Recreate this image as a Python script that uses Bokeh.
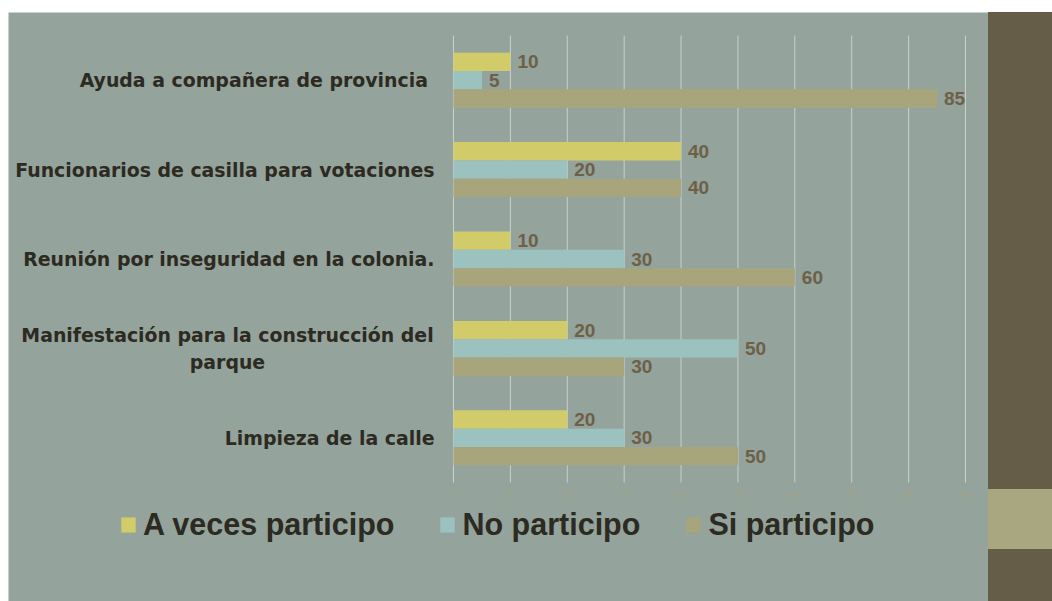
from bokeh.plotting import figure
from bokeh.models import (ColumnDataSource, Legend, LegendItem, Range1d, Spacer, Div)
from bokeh.layouts import row, column
from bokeh.transform import dodge
from bokeh.core.properties import value
from bokeh.embed import file_html
from bokeh.resources import INLINE

# ---------------- data ----------------
categories = [
    "Ayuda a compañera de provincia ",
    "Funcionarios de casilla para votaciones",
    "Reunión por inseguridad en la colonia.",
    "Manifestación para la construcción del\nparque",
    "Limpieza de la calle",
]
a_veces = [10, 40, 10, 20, 20]
no_participo = [5, 20, 30, 50, 30]
si_participo = [85, 40, 60, 30, 50]
series_names = ["A veces participo", "No participo", "Si participo"]
x_ticks = [0, 10, 20, 30, 40, 50, 60, 70, 80, 90]
x_tick_labels = ["0", "10", "20", "30", "40", "50", "60", "70", "80", "90"]

# ---------------- style / geometry ----------------
BG = "#94A39B"
BROWN = "#655D48"
TAN_BOX = "#A9A77F"
COLORS = ["#D1CB6A", "#9CC2C0", "#A8A47B"]
LABEL_COLOR = "#6D6047"
TEXT_DARK = "#2D2A22"
GRID = "#C9D1CB"
TICK_COLOR = "#A6A285"

FIG_W, FIG_H = 980, 589
X0_PX = 445          # pixel position of value 0 inside the figure
X_SPAN_PX = 512      # pixels from 0 to the last tick
BAND_PX = 89.4       # height of one category band
TOP_PX = 23          # distance from figure top to first band
CAT_FONT = "18.9px"

n = len(categories)
unit = X_SPAN_PX / x_ticks[-1]
x_start = -X0_PX / unit
x_end = (FIG_W - X0_PX) / unit
y_top = -0.5 - TOP_PX / BAND_PX
y_bottom = y_top + FIG_H / BAND_PX

idx = list(range(n))
src = ColumnDataSource(dict(
    idx=idx, cat=categories,
    a=a_veces, n=no_participo, s=si_participo,
    a_txt=[str(v) for v in a_veces],
    n_txt=[str(v) for v in no_participo],
    s_txt=[str(v) for v in si_participo],
))

p = figure(
    width=FIG_W, height=FIG_H,
    x_range=Range1d(x_start, x_end),
    y_range=Range1d(y_bottom, y_top),
    output_backend="svg", toolbar_location=None,
    min_border=0, min_border_left=0, min_border_right=0,
    min_border_top=0, min_border_bottom=0,
)
p.axis.visible = False
p.grid.visible = False
p.background_fill_color = BG
p.border_fill_color = BG
p.outline_line_color = None

# vertical grid lines at ticks
p.segment(x0=x_ticks, x1=x_ticks, y0=[-0.5] * len(x_ticks), y1=[n - 0.5] * len(x_ticks),
          line_color=GRID, line_width=1)
# tick labels
p.text(x=x_ticks, y=[n - 0.5] * len(x_ticks), text=x_tick_labels, y_offset=12,
       text_align="center", text_baseline="middle",
       text_font=value("Liberation Sans"), text_font_size="8.5px", text_color=TICK_COLOR)

bh = 0.205
offsets = [-bh, 0.0, bh]
fields = ["a", "n", "s"]
renderers = []
for f, off, col in zip(fields, offsets, COLORS):
    r = p.hbar(y=dodge("idx", off), left=0, right=f, height=bh,
               source=src, fill_color=col, line_color=None)
    renderers.append(r)
    p.text(x=f, y=dodge("idx", off), text=f + "_txt", source=src, x_offset=7,
           text_baseline="middle", text_align="left",
           text_font=value("Liberation Sans"), text_font_style="bold",
           text_font_size="19px", text_color=LABEL_COLOR)

# category labels
single = [i for i, c in enumerate(categories) if "\n" not in c]
multi = [i for i, c in enumerate(categories) if "\n" in c]
src_single = ColumnDataSource(dict(x=[0] * len(single), y=single,
                                   t=[categories[i] for i in single]))
src_multi = ColumnDataSource(dict(x=[0] * len(multi), y=multi,
                                  t=[categories[i] for i in multi]))
p.text(x="x", y="y", text="t", source=src_single, x_offset=-19,
       text_align="right", text_baseline="middle",
       text_font=value("DejaVu Sans"), text_font_style="bold",
       text_font_size=CAT_FONT, text_color=TEXT_DARK)
p.text(x="x", y="y", text="t", source=src_multi, x_offset=-226,
       text_align="center", text_baseline="middle", text_line_height=1.22,
       text_font=value("DejaVu Sans"), text_font_style="bold",
       text_font_size=CAT_FONT, text_color=TEXT_DARK)

legend = Legend(
    items=[LegendItem(label=nm, renderers=[r]) for nm, r in zip(series_names, renderers)],
    orientation="horizontal", location=(111, 59),
    background_fill_alpha=0, border_line_color=None,
    padding=0, margin=0, spacing=44, label_standoff=6,
    glyph_width=18, glyph_height=19,
    label_text_font="Liberation Sans", label_text_font_style="bold",
    label_text_font_size="30.5px", label_text_color=TEXT_DARK,
)
p.add_layout(legend)

# decorative right strip
strip = Div(width=64, height=FIG_H,
            styles={"background-color": BROWN, "margin": "0", "padding": "0",
                    "overflow": "hidden"},
            text=(f'<div style="position:absolute;left:0;top:477px;width:64px;'
                  f'height:60px;background:{TAN_BOX};"></div>'))

layout = column(Spacer(height=12),
                row(Spacer(width=8), p, strip, spacing=0),
                spacing=0)

open("out.html", "w").write(file_html(layout, INLINE))
